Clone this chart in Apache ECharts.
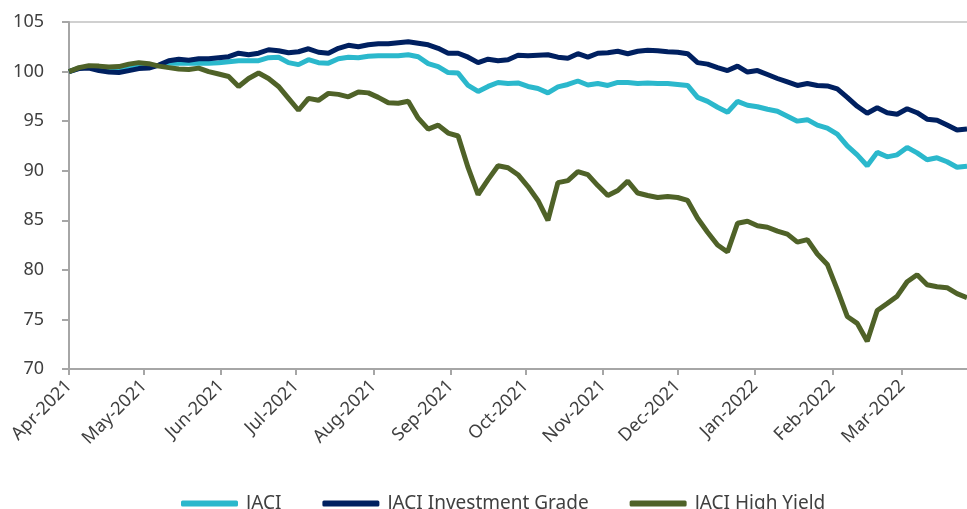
<!DOCTYPE html>
<html>
<head>
<meta charset="utf-8">
<script src="https://cdn.jsdelivr.net/npm/echarts/dist/echarts.min.js"></script>
<style>
  html, body { margin: 0; padding: 0; background: #fff; }
  #main { width: 967px; height: 509px; }
</style>
</head>
<body>
<div id="main"></div>
<script>
// dates sampled every 4 days, Apr-2021 .. Mar-2022
var dates = [
  '2021-04-01','2021-04-05','2021-04-09','2021-04-13','2021-04-17','2021-04-21','2021-04-25','2021-04-29',
  '2021-05-03','2021-05-07','2021-05-11','2021-05-15','2021-05-19','2021-05-23','2021-05-27','2021-05-31',
  '2021-06-04','2021-06-08','2021-06-12','2021-06-16','2021-06-20','2021-06-24','2021-06-28',
  '2021-07-02','2021-07-06','2021-07-10','2021-07-14','2021-07-18','2021-07-22','2021-07-26','2021-07-30',
  '2021-08-03','2021-08-07','2021-08-11','2021-08-15','2021-08-19','2021-08-23','2021-08-27','2021-08-31',
  '2021-09-04','2021-09-08','2021-09-12','2021-09-16','2021-09-20','2021-09-24','2021-09-28',
  '2021-10-02','2021-10-06','2021-10-10','2021-10-14','2021-10-18','2021-10-22','2021-10-26','2021-10-30',
  '2021-11-03','2021-11-07','2021-11-11','2021-11-15','2021-11-19','2021-11-23','2021-11-27',
  '2021-12-01','2021-12-05','2021-12-09','2021-12-13','2021-12-17','2021-12-21','2021-12-25','2021-12-29',
  '2022-01-02','2022-01-06','2022-01-10','2022-01-14','2022-01-18','2022-01-22','2022-01-26','2022-01-30',
  '2022-02-03','2022-02-07','2022-02-11','2022-02-15','2022-02-19','2022-02-23','2022-02-27',
  '2022-03-03','2022-03-07','2022-03-11','2022-03-15','2022-03-19','2022-03-23','2022-03-27'
];

var jaci = [
  100.0,100.35,100.45,100.4,100.2,100.2,100.4,100.6,
  100.55,100.6,100.85,100.85,100.85,100.85,100.85,100.9,
  101.0,101.1,101.1,101.1,101.4,101.45,100.9,
  100.7,101.2,100.9,100.85,101.3,101.45,101.4,101.55,
  101.6,101.6,101.6,101.7,101.5,100.8,100.5,99.9,
  99.85,98.6,98.0,98.5,98.9,98.8,98.85,
  98.5,98.3,97.85,98.45,98.7,99.05,98.65,98.8,
  98.6,98.9,98.9,98.8,98.85,98.8,98.8,
  98.7,98.6,97.4,97.0,96.4,95.9,97.0,96.6,
  96.45,96.2,96.0,95.5,95.0,95.15,94.6,94.3,
  93.7,92.5,91.6,90.5,91.85,91.4,91.6,
  92.35,91.8,91.1,91.3,90.9,90.35,90.45
];

var jaciIG = [
  100.0,100.3,100.35,100.1,99.95,99.9,100.1,100.3,
  100.35,100.65,101.1,101.25,101.15,101.3,101.3,101.4,
  101.5,101.85,101.7,101.85,102.2,102.1,101.9,
  102.0,102.3,101.95,101.85,102.35,102.65,102.5,102.7,
  102.8,102.8,102.9,103.0,102.85,102.7,102.35,101.85,
  101.85,101.45,100.9,101.25,101.1,101.2,101.65,
  101.6,101.65,101.7,101.45,101.35,101.8,101.45,101.85,
  101.9,102.05,101.8,102.05,102.15,102.1,102.0,
  101.95,101.8,100.9,100.75,100.4,100.1,100.55,99.95,
  100.1,99.7,99.3,98.95,98.6,98.8,98.6,98.55,
  98.25,97.4,96.5,95.8,96.35,95.85,95.7,
  96.25,95.85,95.2,95.1,94.6,94.1,94.2
];

var jaciHY = [
  100.0,100.4,100.6,100.55,100.45,100.5,100.75,100.9,
  100.8,100.55,100.4,100.25,100.2,100.35,100.0,99.75,
  99.5,98.5,99.3,99.85,99.3,98.5,97.3,
  96.1,97.3,97.1,97.8,97.7,97.45,97.95,97.85,
  97.4,96.85,96.8,97.0,95.3,94.2,94.6,93.8,
  93.5,90.3,87.6,89.1,90.5,90.3,89.6,
  88.4,87.0,85.0,88.8,89.0,89.9,89.6,88.5,
  87.5,88.0,88.95,87.75,87.5,87.3,87.4,
  87.3,87.0,85.2,83.8,82.5,81.8,84.7,84.9,
  84.45,84.3,83.9,83.6,82.8,83.05,81.6,80.55,
  78.0,75.3,74.6,72.8,75.9,76.6,77.35,
  78.8,79.5,78.5,78.3,78.2,77.6,77.2
];

var seriesNames = ['JACI', 'JACI Investment Grade', 'JACI High Yield'];
var seriesColors = ['#2bb8cc', '#002060', '#4f6228'];
var monthNames = ['Jan','Feb','Mar','Apr','May','Jun','Jul','Aug','Sep','Oct','Nov','Dec'];

var fontFamily = "'Noto Sans', sans-serif";
var textColor = '#404040';
var axisGray = '#a6a6a6';

function pairs(values) {
  return values.map(function (v, i) { return [dates[i], v]; });
}

var chart = echarts.init(document.getElementById('main'));

chart.setOption({
  animation: false,
  color: seriesColors,
  grid: { left: 69, right: 0, top: 22, bottom: 140 },
  legend: {
    data: seriesNames,
    left: 181,
    top: 494,
    padding: 0,
    icon: 'roundRect',
    itemWidth: 57,
    itemHeight: 6,
    itemGap: 41,
    textStyle: { fontFamily: fontFamily, fontSize: 19, color: textColor, padding: [0, 0, 0, 3] }
  },
  xAxis: {
    type: 'time',
    min: '2021-04-01',
    max: '2022-03-27',
    minInterval: 28 * 86400000,
    maxInterval: 31 * 86400000,
    axisLine: { show: true, lineStyle: { color: axisGray, width: 2 } },
    axisTick: { show: true, length: 6, lineStyle: { color: axisGray, width: 2 } },
    splitLine: { show: false },
    axisLabel: {
      rotate: 45,
      margin: 14,
      color: textColor,
      fontFamily: fontFamily,
      fontSize: 18,
      formatter: function (value) {
        var d = new Date(value);
        return monthNames[d.getMonth()] + '-' + d.getFullYear();
      }
    }
  },
  yAxis: {
    type: 'value',
    min: 70,
    max: 105,
    interval: 5,
    axisLine: { show: true, lineStyle: { color: axisGray, width: 2 } },
    axisTick: { show: true, length: 7, lineStyle: { color: axisGray, width: 2 } },
    splitLine: {
      show: true,
      lineStyle: {
        // only the top line (105) is drawn
        color: ['transparent','transparent','transparent','transparent','transparent','transparent','transparent','#d0d0d0'],
        width: 2
      }
    },
    axisLabel: { margin: 25, color: textColor, fontFamily: fontFamily, fontSize: 18 }
  },
  series: [
    { name: seriesNames[0], type: 'line', data: pairs(jaci), showSymbol: false, lineStyle: { width: 5 } },
    { name: seriesNames[1], type: 'line', data: pairs(jaciIG), showSymbol: false, lineStyle: { width: 5 } },
    { name: seriesNames[2], type: 'line', data: pairs(jaciHY), showSymbol: false, lineStyle: { width: 5 } }
  ]
});
</script>
</body>
</html>
